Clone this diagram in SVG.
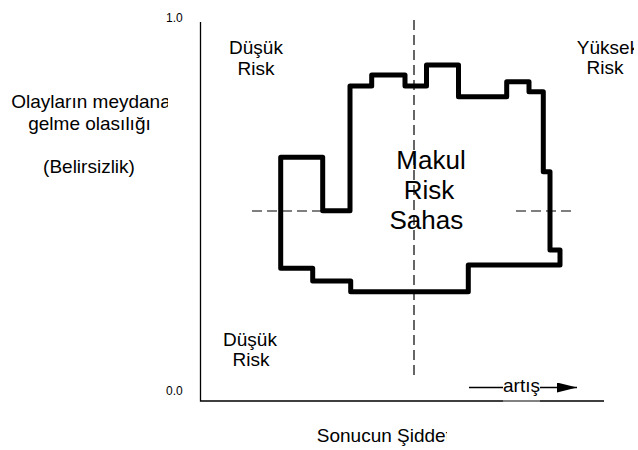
<svg xmlns="http://www.w3.org/2000/svg" width="638" height="450" viewBox="0 0 638 450">
  <style>
    .lbl { font-family: "Liberation Sans", Arial, sans-serif; font-size: 19px; fill: #000; text-anchor: middle; }
    .big { font-size: 26px; }
    .tick { font-family: "Liberation Sans", Arial, sans-serif; font-size: 12px; fill: #000; }
    .axis { stroke: #000; stroke-width: 1.3; fill: none; }
    .dash { stroke: #000; stroke-width: 1.2; stroke-dasharray: 10 5; fill: none; }
    .zone { stroke: #000; stroke-width: 5; stroke-linejoin: round; fill: none; }
  </style>
  <defs>
    <marker id="arrowhead" viewBox="0 0 20 10" refX="20" refY="5" markerWidth="20" markerHeight="10" markerUnits="userSpaceOnUse" orient="auto">
      <path d="M0,0 L20,5 L0,10 Z" fill="#000"/>
    </marker>
    <clipPath id="clipOlay"><rect x="0" y="85" width="168" height="50"/></clipPath>
    <clipPath id="clipBel"><rect x="0" y="150" width="138" height="35"/></clipPath>
    <clipPath id="clipSah"><rect x="370" y="205" width="94" height="35"/></clipPath>
    <clipPath id="clipSon"><rect x="300" y="420" width="147" height="30"/></clipPath>
    <clipPath id="clipYuk"><rect x="560" y="30" width="74" height="55"/></clipPath>
  </defs>

  <rect width="638" height="450" fill="#fff"/>

  <!-- axes and scale marks -->
  <g id="axes">
    <path class="axis" d="M200.5,22 V401 H604"/>
    <line x1="503" y1="401" x2="540" y2="401" stroke="#999" stroke-width="1.3"/>
    <text class="tick" x="166" y="22">1.0</text>
    <text class="tick" x="166" y="395">0.0</text>
  </g>

  <!-- connectors: quadrant guides and direction arrow -->
  <g id="connectors">
    <line class="dash" x1="414" y1="20" x2="414" y2="375"/>
    <line class="dash" x1="252" y1="211" x2="348" y2="211"/>
    <line class="dash" x1="516" y1="211" x2="576" y2="211"/>
    <line x1="469" y1="387.5" x2="503" y2="387.5" stroke="#000" stroke-width="1.3"/>
    <line x1="540" y1="387.5" x2="577" y2="387.5" stroke="#000" stroke-width="1.3" marker-end="url(#arrowhead)"/>
  </g>

  <!-- acceptable risk region outline -->
  <g id="risk-zone">
    <path class="zone" d="M280.7,157.3 H322.7 V210.7 H350 V86 H371.7 V75 H405 V86 H426.5 V65 H458.5 V96.7 H506.7 V81.7 H529 V91.7 H543.3 V171.7 H550 V250 H560 V265 H468.3 V291.7 H350.7 V281 H312.7 V268.3 H280.7 Z"/>
    <text class="lbl big" x="431" y="169">Makul</text>
    <text class="lbl big" x="429" y="199">Risk</text>
    <g clip-path="url(#clipSah)">
      <text class="lbl big" x="430" y="229">Sahası</text>
    </g>
  </g>

  <g id="low-risk-top">
    <text class="lbl" x="256" y="54">Düşük</text>
    <text class="lbl" x="256" y="75">Risk</text>
  </g>

  <g id="high-risk">
    <g clip-path="url(#clipYuk)">
      <text class="lbl" x="608" y="54">Yüksek</text>
      <text class="lbl" x="605" y="74">Risk</text>
    </g>
  </g>

  <g id="low-risk-bottom">
    <text class="lbl" x="250" y="346">Düşük</text>
    <text class="lbl" x="251" y="366">Risk</text>
  </g>

  <g id="y-label">
    <g clip-path="url(#clipOlay)">
      <text class="lbl" x="91" y="108">Olayların meydana</text>
      <text class="lbl" x="89.5" y="130">gelme olasılığı</text>
    </g>
    <g clip-path="url(#clipBel)">
      <text class="lbl" x="89" y="173">(Belirsizlik)</text>
    </g>
  </g>

  <g id="x-label">
    <g clip-path="url(#clipSon)">
      <text class="lbl" x="386" y="442">Sonucun Şiddeti</text>
    </g>
  </g>

  <g id="direction">
    <text class="lbl" x="521.5" y="392">artış</text>
  </g>
</svg>
